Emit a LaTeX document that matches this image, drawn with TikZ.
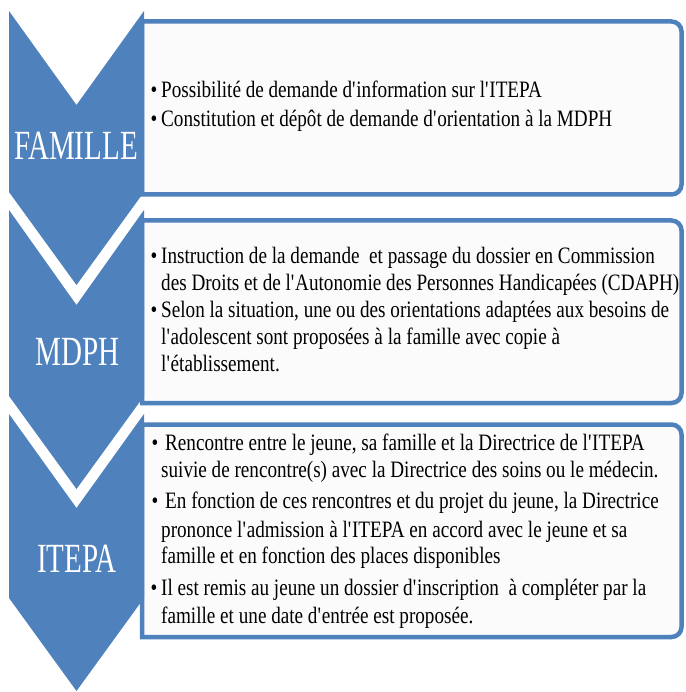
\documentclass[tikz,border=0pt]{standalone}
\usepackage{fontspec}
\newfontfamily\bodyfont[FakeStretch=0.815]{Liberation Serif}
\newfontfamily\labfont[FakeStretch=0.70]{Liberation Serif}
\newcommand\apo{\textquotesingle}
\definecolor{chev}{RGB}{79,129,189}
\definecolor{boxfill}{RGB}{251,251,251}
\tikzset{
  chevshape/.style={fill=chev, draw=none},
  infobox/.style={draw=chev, line width=4.5pt, fill=boxfill},
  txt/.style={anchor=base west, inner sep=0pt, font=\bodyfont\fontsize{23.5}{23.5}\selectfont, text=black},
  bul/.style={anchor=base, inner sep=0pt, font=\bodyfont\fontsize{23.5}{23.5}\selectfont, text=black},
  lab/.style={anchor=base, inner sep=0pt, font=\labfont\fontsize{41.5}{41.5}\selectfont, text=white}
}
\begin{document}
\begin{tikzpicture}[x=1pt,y=1pt]
\useasboundingbox (0,0) rectangle (685,-692);
\fill[white] (0,0) rectangle (685,-692);
% boxes
\draw[infobox] (142,-21.5) -- (671.5,-21.5) arc[start angle=90,end angle=0,radius=10] -- (681.5,-184.5) arc[start angle=0,end angle=-90,radius=10] -- (142,-194.5) -- cycle;
\draw[infobox] (142,-220.5) -- (671.5,-220.5) arc[start angle=90,end angle=0,radius=10] -- (681.5,-393) arc[start angle=0,end angle=-90,radius=10] -- (142,-403) -- cycle;
\draw[infobox] (142,-424.5) -- (671.5,-424.5) arc[start angle=90,end angle=0,radius=10] -- (681.5,-627) arc[start angle=0,end angle=-90,radius=10] -- (142,-637) -- cycle;
% chevrons
\fill[chevshape] (9,-11) -- (76.5,-105) -- (144,-11) -- (144,-192) -- (76.5,-285) -- (9,-192) -- cycle;
\fill[chevshape] (9,-210) -- (76.5,-305) -- (144,-210) -- (144,-396) -- (76.5,-489) -- (9,-396) -- cycle;
\fill[chevshape] (9,-414) -- (76.5,-508) -- (144,-414) -- (144,-598) -- (76.5,-691) -- (9,-598) -- cycle;
% labels
\node[lab] (famille) at (76,-160) {FAMILLE};
\node[lab] (mdph) at (77.5,-365) {MDPH};
\node[lab] (itepa) at (77,-572) {ITEPA};
% box 1
\node[bul] (b1a) at (154,-98) {•};
\node[txt] (t1a) at (161,-98) {Possibilité de demande d\apo information sur l\apo ITEPA};
\node[bul] (b1b) at (154,-127) {•};
\node[txt] (t1b) at (161,-127) {Constitution et dépôt de demande d\apo orientation à la MDPH};
% box 2
\node[bul] (b2a) at (154,-263) {•};
\node[txt] (t2a) at (161,-263) {Instruction de la demande~ et passage du dossier en Commission};
\node[txt] (t2b) at (161,-290) {des Droits et de l\apo Autonomie des Personnes Handicapées (CDAPH)};
\node[bul] (b2c) at (154,-317) {•};
\node[txt] (t2c) at (161,-317) {Selon la situation, une ou des orientations adaptées aux besoins de};
\node[txt] (t2d) at (161,-344) {l\apo adolescent sont proposées à la famille avec copie à};
\node[txt] (t2e) at (161,-371) {l\apo établissement.};
% box 3
\node[bul] (b3a) at (155,-450) {•};
\node[txt] (t3a) at (165,-450) {Rencontre entre le jeune, sa famille et la Directrice de l\apo ITEPA};
\node[txt] (t3b) at (161,-477) {suivie de rencontre(s) avec la Directrice des soins ou le médecin.};
\node[bul] (b3c) at (155,-508) {•};
\node[txt] (t3c) at (165,-508) {En fonction de ces rencontres et du projet du jeune, la Directrice};
\node[txt] (t3d) at (161,-537) {prononce l\apo admission à l\apo ITEPA en accord avec le jeune et sa};
\node[txt] (t3e) at (161,-563) {famille et en fonction des places disponibles};
\node[bul] (b3f) at (154,-595) {•};
\node[txt] (t3f) at (161,-595) {Il est remis au jeune un dossier d\apo inscription~ à compléter par la};
\node[txt] (t3g) at (161,-623) {famille et une date d\apo entrée est proposée.};
\end{tikzpicture}
\end{document}
